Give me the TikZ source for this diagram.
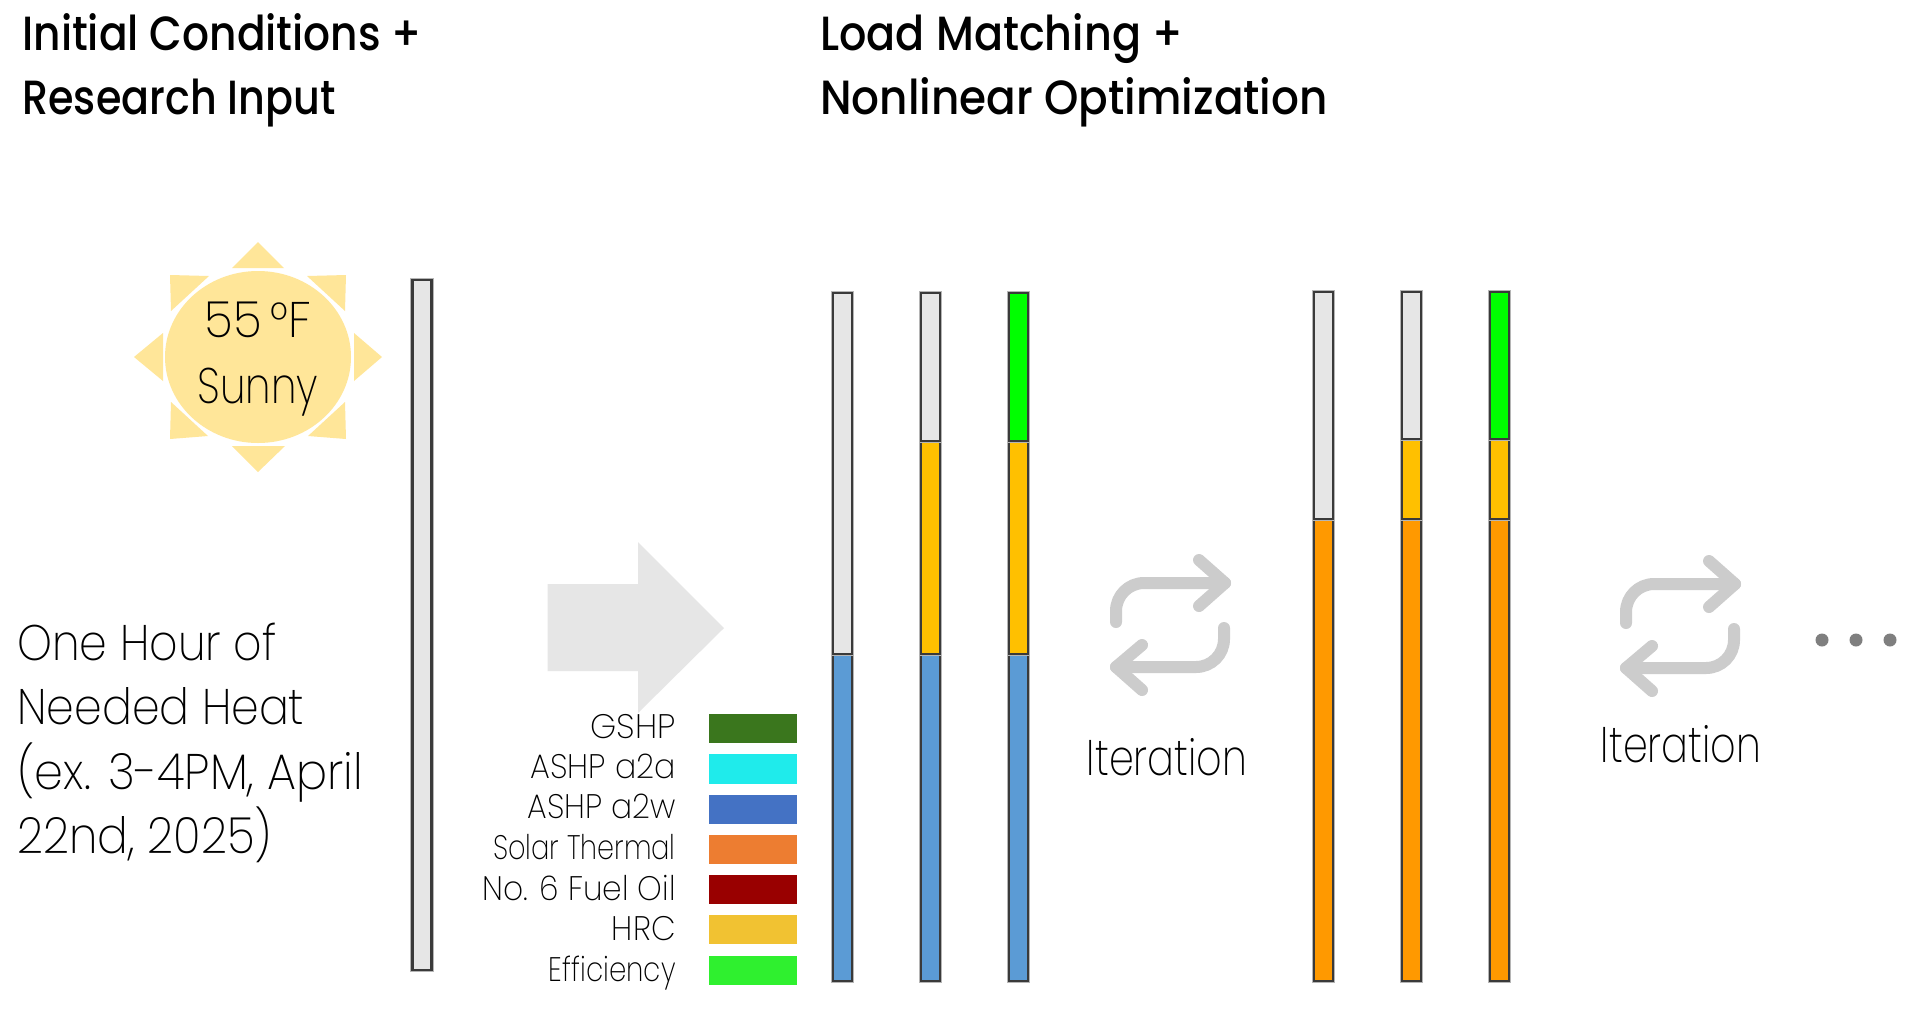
\documentclass[tikz,border=0pt]{standalone}
\usepackage{graphicx}
\usepackage{fontspec}
\setmainfont{Poppins}[UprightFont=* Light,BoldFont=* Medium,FakeStretch=0.86]
\newfontfamily\thinf{Poppins}[UprightFont=* ExtraLight,FakeStretch=0.86]
\newcommand\sx[2]{\scalebox{#1}[1]{#2}}
\tikzset{
  sunpart/.style={fill=sunc,draw=none},
  lbl/.style={inner sep=0pt,anchor=base west,font=\thinf\fontsize{25}{30}\selectfont},
  ttl/.style={inner sep=0pt,anchor=base west,font=\fontsize{24}{29}\selectfont\bfseries},
  leg/.style={inner sep=0pt,anchor=base east,font=\thinf\fontsize{17}{20}\selectfont},
  loopline/.style={draw=loopc,line width=6pt,line cap=round,line join=round,rounded corners=14pt},
  loophead/.style={draw=loopc,line width=6pt,line cap=round,line join=round},
  seg/.style={draw=barline,line width=1.2pt,preaction={draw=barhalo,line width=2.2pt}},
  dotc/.style={fill=dotcol,draw=none}
}
\definecolor{sunc}{HTML}{FFE699}
\definecolor{loopc}{HTML}{CCCCCC}
\definecolor{barline}{HTML}{3A3A3A}
\definecolor{barhalo}{HTML}{B5B5B5}
\definecolor{dotcol}{HTML}{7F7F7F}
\definecolor{cgray}{HTML}{E6E6E6}
\definecolor{cblue}{HTML}{5B9BD5}
\definecolor{cyel}{HTML}{FFC000}
\definecolor{cgreen}{HTML}{00FF00}
\definecolor{corg}{HTML}{FF9900}
\begin{document}
\begin{tikzpicture}[x=0.5pt,y=-0.5pt]
\useasboundingbox (0,0) rectangle (1920,1029);
\fill[white] (0,0) rectangle (1920,1029);
% titles
\node[ttl] (t1) at (22,50) {\sx{1.025}{Initial Conditions +}};
\node[ttl] (t2) at (22,114) {Research Input};
\node[ttl] (t3) at (820,50) {\sx{1.04}{Load Matching +}};
\node[ttl] (t4) at (820,114) {\sx{1.06}{Nonlinear Optimization}};
% sun
\fill[sunpart] (258,357) ellipse (93 and 86);
\fill[sunpart] (232,268) -- (284,268) -- (258,242) -- cycle;
\fill[sunpart] (232,446) -- (285,446) -- (258,472) -- cycle;
\fill[sunpart] (163,333) -- (163,381) -- (134,357) -- cycle;
\fill[sunpart] (354,333) -- (354,381) -- (382,357) -- cycle;
\fill[sunpart] (170,275) -- (209,276) -- (171,311) -- cycle;
\fill[sunpart] (346,275) -- (307,276) -- (345,311) -- cycle;
\fill[sunpart] (170,439) -- (208,436) -- (171,402) -- cycle;
\fill[sunpart] (346,439) -- (308,436) -- (345,402) -- cycle;
\node[lbl,anchor=base] (sun1) at (258,337) {\sx{1.1}{55\,°F}};
\node[lbl,anchor=base] (sun2) at (258,403) {\sx{0.95}{Sunny}};
% left text
\node[lbl] (l1) at (17,660) {\sx{1.03}{One Hour of}};
\node[lbl] (l2) at (17,724) {\sx{1.03}{Needed Heat}};
\node[lbl] (l3) at (17,789) {\sx{1.075}{(ex. 3-4PM, April}};
\node[lbl] (l4) at (17,853) {\sx{1.06}{22nd, 2025)}};
% first bar
\path[seg,fill=cgray] (412.5,280) rectangle (431.5,970);
% big arrow
\fill[cgray] (547.5,584) -- (638,584) -- (638,542) -- (724,628) -- (638,713) -- (638,671) -- (547.5,671) -- cycle;
% legend
\foreach \ya/\yb/\col/\base/\sc/\txt in {
 714/743/3A761D/738/1.14/GSHP,
 754/784/1FEBEB/778/1.08/ASHP a2a,
 795/824/4472C4/818/1.07/ASHP a2w,
 835/864/ED7D31/859/0.93/Solar Thermal,
 875/904/990000/900/1.07/No. 6 Fuel Oil,
 915/944/F1C232/940/1.09/HRC,
 956/985/2FF02F/981/0.95/Efficiency}{
  \definecolor{tmpc}{HTML}{\col}
  \fill[tmpc] (709,\ya) rectangle (797,\yb);
  \node[leg] at (676,\base) {\sx{\sc}{\txt}};
}
% group one
\path[seg,fill=cblue] (833,654) rectangle (852,981);
\path[seg,fill=cgray] (833,293) rectangle (852,654);
\path[seg,fill=cblue] (921,654) rectangle (940,981);
\path[seg,fill=cyel] (921,441) rectangle (940,654);
\path[seg,fill=cgray] (921,293) rectangle (940,441);
\path[seg,fill=cblue] (1009,654) rectangle (1028,981);
\path[seg,fill=cyel] (1009,441) rectangle (1028,654);
\path[seg,fill=cgreen] (1009,293) rectangle (1028,441);
% group two
\path[seg,fill=corg] (1314,519) rectangle (1333,981);
\path[seg,fill=cgray] (1314,292) rectangle (1333,519);
\path[seg,fill=corg] (1402,519) rectangle (1421,981);
\path[seg,fill=cyel] (1402,439) rectangle (1421,519);
\path[seg,fill=cgray] (1402,292) rectangle (1421,439);
\path[seg,fill=corg] (1490,519) rectangle (1509,981);
\path[seg,fill=cyel] (1490,439) rectangle (1509,519);
\path[seg,fill=cgreen] (1490,292) rectangle (1509,439);
% loops
\foreach \dx/\dy in {0/0,510/1}{
 \begin{scope}[shift={(\dx,\dy)}]
  \draw[loopline] (1116,622) -- (1116,583) -- (1225,583);
  \draw[loophead] (1199,560) -- (1225,583) -- (1199,606);
  \draw[loopline] (1224,628) -- (1224,667) -- (1116,667);
  \draw[loophead] (1142,645) -- (1116,667) -- (1142,690);
 \end{scope}
}
\node[lbl,anchor=base] (it1) at (1167,775) {\sx{0.925}{Iteration}};
\node[lbl,anchor=base] (it2) at (1681,762) {\sx{0.925}{Iteration}};
\fill[dotc] (1822,640) circle (6.5);
\fill[dotc] (1856,640) circle (6.5);
\fill[dotc] (1890,640) circle (6.5);
\end{tikzpicture}
\end{document}
